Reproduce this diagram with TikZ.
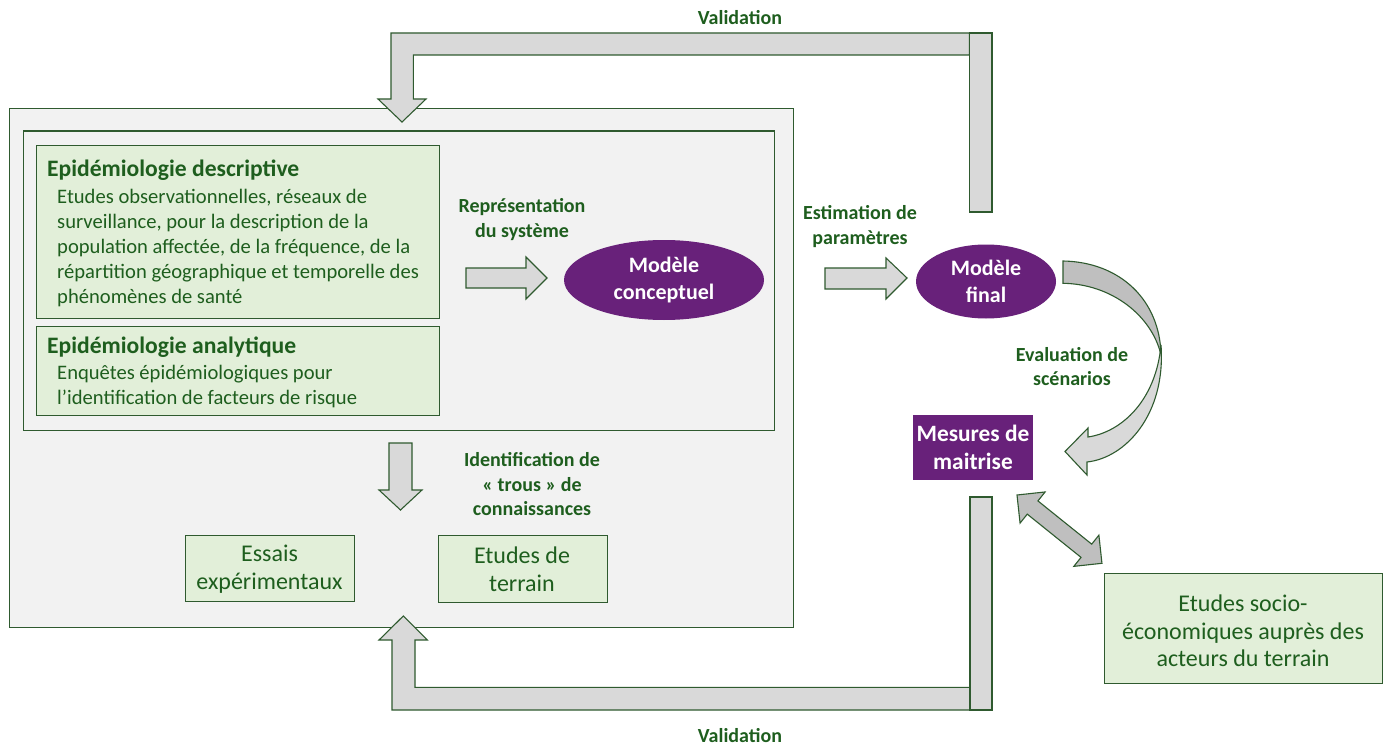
\documentclass[tikz,border=0pt]{standalone}
\usepackage{fontspec}
\setmainfont{Carlito}
\usetikzlibrary{shapes.geometric}
\definecolor{tgreen}{HTML}{1E5E1E}
\definecolor{bgreen}{HTML}{2F5A2F}
\definecolor{lgreen}{HTML}{E2EFD9}
\definecolor{panel}{HTML}{F2F2F2}
\definecolor{purp}{HTML}{68217A}
\definecolor{agray}{HTML}{D9D9D9}
\definecolor{dgray}{HTML}{BFBFBF}
\tikzset{
  panelbox/.style={draw=bgreen, line width=1.4pt, fill=panel, inner sep=0, anchor=north west},
  greenbox/.style={draw=bgreen, line width=1.4pt, fill=lgreen, inner sep=0, anchor=north west},
  blockarrow/.style={draw=bgreen, line width=1.1pt, fill=agray, line join=miter},
  darkarrow/.style={draw=bgreen, line width=1.1pt, fill=dgray, line join=miter},
  lbl/.style={text=tgreen, font=\fontsize{20}{24.5}\selectfont\bfseries, align=center, inner sep=0},
  headtxt/.style={text=tgreen, font=\fontsize{23.6}{28}\selectfont\bfseries, inner sep=0, anchor=base west},
  bodytxt/.style={text=tgreen, font=\fontsize{20.6}{25}\selectfont, align=left, inner sep=0, anchor=base west},
  boxtxt/.style={text=tgreen, font=\fontsize{24}{27.5}\selectfont, align=center, inner sep=0},
  purpell/.style={ellipse, fill=purp, text=white, font=\fontsize{22}{27}\selectfont\bfseries, align=center, inner sep=0},
  purpbox/.style={fill=purp, text=white, font=\fontsize{23.4}{28}\selectfont\bfseries, align=center, inner sep=0},
}
\begin{document}
\begin{tikzpicture}[x=1pt,y=-1pt]
\useasboundingbox (0,0) rectangle (1391,746);
\fill[white] (0,0) rectangle (1391,746);

% panels
\node[panelbox, minimum width=784pt, minimum height=519pt] (outer) at (8.5,108) {};
\node[panelbox, minimum width=751pt, minimum height=299pt] (inner) at (22.5,130.5) {};
\node[greenbox, minimum width=402.5pt, minimum height=172.5pt] (desc) at (36,145) {};
\node[greenbox, minimum width=402.5pt, minimum height=89pt] (anal) at (36,325.5) {};

\node[headtxt] (desch) at (47,177) {Epidémiologie descriptive};
\node[bodytxt] (descb) at (57,303) {Etudes observationnelles, réseaux de\\surveillance, pour la description de la\\population affectée, de la fréquence, de la\\répartition géographique et temporelle des\\phénomènes de santé};
\node[headtxt] (analh) at (47,353) {Epidémiologie analytique};
\node[bodytxt] (analb) at (57,404) {Enquêtes épidémiologiques pour\\l’identification de facteurs de risque};

% bottom boxes
\node[greenbox, minimum width=169pt, minimum height=66pt] (essais) at (185,535) {};
\node[boxtxt] (essaist) at (269.5,569) {Essais\\expérimentaux};
\node[greenbox, minimum width=169pt, minimum height=66.5pt] (terrain) at (437.7,535) {};
\node[boxtxt] (terraint) at (522,569) {Etudes de\\terrain};

% ellipses
\node[purpell, minimum width=200pt, minimum height=80pt] (concept) at (664,280) {Modèle\\conceptuel};
\node[purpell, minimum width=140pt, minimum height=74pt] (final) at (986,281.5) {Modèle\\final};
\node[purpbox, minimum width=120pt, minimum height=65pt] (mesures) at (973,447.5) {Mesures de\\maitrise};

% socio box
\node[greenbox, minimum width=278pt, minimum height=110pt] (socio) at (1104,573) {};
\node[boxtxt] (sociot) at (1243,631) {Etudes socio-\\économiques auprès des\\acteurs du terrain};

% labels
\node[lbl] (lrep) at (522,219.5) {Représentation\\du système};
\node[lbl] (lest) at (860,226.5) {Estimation de\\paramètres};
\node[lbl] (leval) at (1072,366.5) {Evaluation de\\scénarios};
\node[lbl] (lid) at (532,484.5) {Identification de\\« trous » de\\connaissances};
\node[lbl] (lvt) at (740,18) {Validation};
\node[lbl] (lvb) at (740,736) {Validation};

% straight block arrows
\draw[blockarrow] (466,268) -- (526,268) -- (526,257) -- (547,278) -- (526,299) -- (526,288) -- (466,288) -- cycle;
\draw[blockarrow] (825,268) -- (886,268) -- (886,258) -- (907,278) -- (886,299) -- (886,289) -- (825,289) -- cycle;
\draw[blockarrow] (389,443) -- (412,443) -- (412,490) -- (422,490) -- (400.5,510) -- (379,490) -- (389,490) -- cycle;

% validation arrows (top)
\draw[blockarrow] (969.5,33) -- (391,33) -- (391,99) -- (378,99) -- (402,122) -- (426,99) -- (413.3,99) -- (413.3,55) -- (969.5,55) -- cycle;
\draw[blockarrow] (969.5,33) rectangle (992,212);
% validation arrows (bottom)
\draw[blockarrow] (970,710) -- (392,710) -- (392,640) -- (379,640) -- (403.3,616) -- (427.3,640) -- (415,640) -- (415,687.3) -- (970,687.3) -- cycle;
\draw[blockarrow] (970,497) rectangle (992,710);

% curved arrow final -> mesures
\draw[darkarrow] (1063,261) .. controls (1120,262) and (1160,300) .. (1161,355) .. controls (1152,316) and (1112,284) .. (1063,283.3) -- cycle;
\draw[blockarrow] (1161,345) .. controls (1166,415) and (1125,458) .. (1087,462) -- (1087,475) -- (1065,451.5) -- (1088,428) -- (1088,437) .. controls (1122,432) and (1156,400) .. (1161,345) -- cycle;

% double arrow mesures <-> socio
\coordinate (dA) at (1017,495);
\coordinate (dB) at (1102,563.3);
\begin{scope}[shift={(dA)}, rotate=-38.8]
\draw[darkarrow] (0,0) -- (20,20) -- (20,8.5) -- (89,8.5) -- (89,20) -- (109,0) -- (89,-20) -- (89,-8.5) -- (20,-8.5) -- (20,-20) -- cycle;
\end{scope}
\end{tikzpicture}
\end{document}
